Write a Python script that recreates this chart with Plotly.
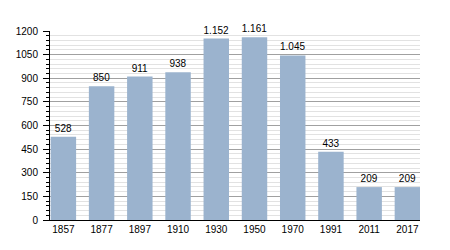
import plotly.graph_objects as go

years = ["1857", "1877", "1897", "1910", "1930", "1950", "1970", "1991", "2011", "2017"]
population = [528, 850, 911, 938, 1152, 1161, 1045, 433, 209, 209]
y_ticks = [0, 150, 300, 450, 600, 750, 900, 1050, 1200]

fig = go.Figure(go.Bar(
    x=years, y=population,
    marker=dict(color="#9bb3ce", line=dict(width=0)),
    texttemplate="%{y:,}", textposition="outside",
    textfont=dict(size=10, color="#000000"),
    cliponaxis=False,
))

fig.update_layout(
    width=450, height=250,
    margin=dict(l=50, r=30, t=31, b=30),
    paper_bgcolor="white", plot_bgcolor="white",
    separators=",.",
    bargap=0.334,
    showlegend=False,
    font=dict(family="Liberation Sans, Arial, sans-serif", size=10, color="#000000"),
)
fig.update_xaxes(
    type="category", range=[-0.35, 9.33],
    showline=True, linecolor="#000000", linewidth=1,
    ticks="", showgrid=False, tickfont=dict(size=10),
)
fig.update_yaxes(
    range=[0, 1200], tickvals=y_ticks, tickformat="d",
    showline=True, linecolor="#000000", linewidth=1,
    ticks="outside", ticklen=6, tickcolor="#000000",
    ticklabelstandoff=3,
    showgrid=True, gridcolor="#a0a0a0", gridwidth=1,
    zeroline=False,
    minor=dict(dtick=30, tick0=0, ticks="outside", ticklen=3, tickcolor="#000000",
               showgrid=True, gridcolor="#e2e2e2", gridwidth=1),
    tickfont=dict(size=10),
)

fig.write_html("out.html")
